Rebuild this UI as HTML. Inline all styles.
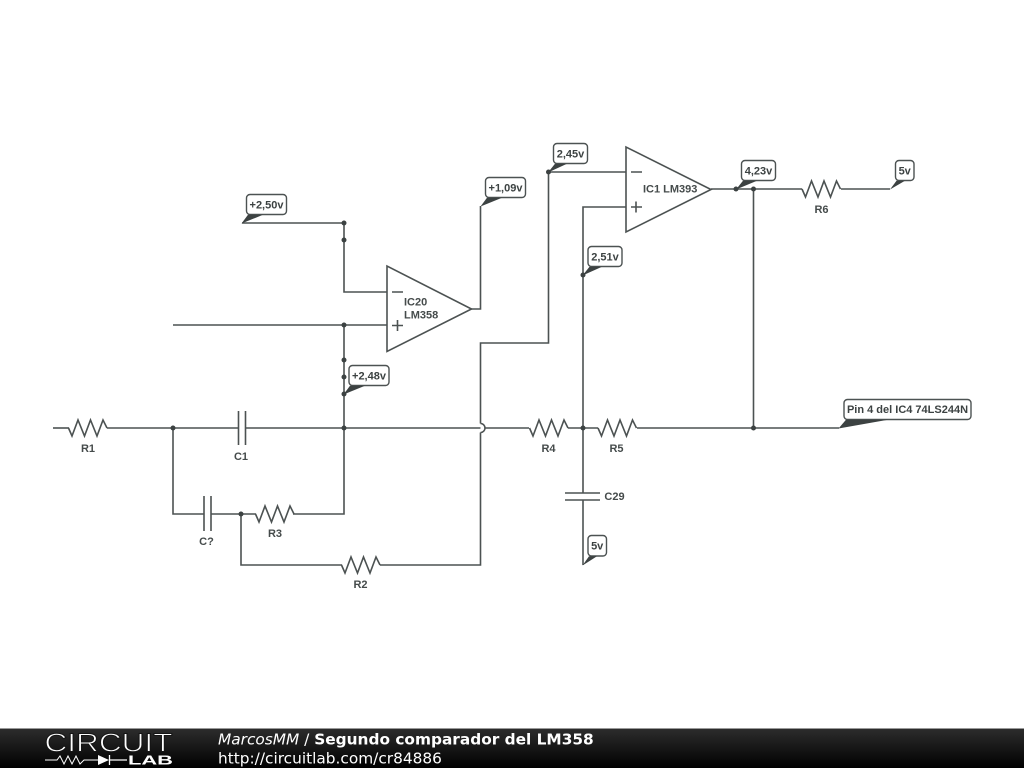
<!DOCTYPE html>
<html>
<head>
<meta charset="utf-8">
<style>
html,body{margin:0;padding:0;background:#fff;}
svg{display:block;}
.w{fill:none;stroke:#4c5252;stroke-width:1.6;stroke-linejoin:miter;}
.d{fill:#3c4242;}
.l{font-family:"Liberation Sans",sans-serif;font-weight:bold;font-size:11px;fill:#454b4b;text-anchor:middle;}
.t{font-family:"Liberation Sans",sans-serif;font-weight:bold;font-size:11px;fill:#3c4242;text-anchor:middle;}
.b{fill:#fff;stroke:#4c5252;stroke-width:1.4;}
.p{fill:#3c4242;}
.f{font-family:"DejaVu Sans",sans-serif;font-size:15.35px;fill:#fff;}
</style>
</head>
<body>
<svg width="1024" height="768" viewBox="0 0 1024 768" xmlns="http://www.w3.org/2000/svg">
<defs>
<linearGradient id="g" x1="0" y1="0" x2="0" y2="1"><stop offset="0" stop-color="#2c2c2c"/><stop offset="1" stop-color="#000"/></linearGradient>
</defs>
<rect width="1024" height="768" fill="#fff"/>

<!-- wires -->
<path class="w" d="M242 223H344V292H387"/>
<path class="w" d="M173 325H387"/>
<path class="w" d="M344 325V514H293"/>
<path class="w" d="M53 428H69"/>
<path class="w" d="M107 428H238.500"/>
<path class="w" d="M245 428H480.500M480.500 423.500A4.500 4.500 0 0 1 480.500 432.500"/>
<path class="w" d="M485 428H529"/>
<path class="w" d="M173 428V514H204"/>
<path class="w" d="M211 514H256"/>
<path class="w" d="M241 514V565H342"/>
<path class="w" d="M380 565H480.500V432.500M480.500 423.500V343H548.500V172H626"/>
<path class="w" d="M471 309H480.500V206"/>
<path class="w" d="M626 207H583V493"/>
<path class="w" d="M583 500V565"/>
<path class="w" d="M568 428H598"/>
<path class="w" d="M637 428H839"/>
<path class="w" d="M711 189H802"/>
<path class="w" d="M841 189H890"/>
<path class="w" d="M753.500 189V428"/>

<!-- resistors -->
<path class="w" d="M68.500 428L72 436L78 420L84.500 436L90.500 420L97 436L103 420L107 428"/>
<path class="w" d="M255.500 514L259 522L265 506L271.500 522L277.500 506L284 522L290 506L294 514"/>
<path class="w" d="M341.500 565L345 573L351 557L357.500 573L363.500 557L370 573L376 557L380 565"/>
<path class="w" d="M529.500 428L533 436L539 420L545.500 436L551.500 420L558 436L564 420L568 428"/>
<path class="w" d="M598 428L601.500 436L607.500 420L614 436L620 420L626.500 436L632.500 420L636.500 428"/>
<path class="w" d="M802 189L805.500 197L811.500 181L818 197L824 181L830.500 197L836.500 181L840.500 189"/>

<!-- capacitors -->
<path class="w" d="M238.500 411V445M245.500 411V445"/>
<path class="w" d="M204 496V531M211 496V531"/>
<path class="w" d="M565 493H600M565 500H600"/>

<!-- op amps -->
<path class="w" d="M387 266V351.500L471.500 309Z"/>
<path class="w" d="M392 292H403M397.500 320V331M392 325.500H403"/>
<path class="w" d="M626 147V232L711 189.500Z"/>
<path class="w" d="M631 172H642M636 201.500V212.500M631 207H642"/>

<!-- dots -->
<g class="d">
<circle cx="344" cy="223" r="2.500"/><circle cx="344" cy="240" r="2.500"/><circle cx="344" cy="325" r="2.500"/>
<circle cx="344" cy="360" r="2.500"/><circle cx="344" cy="377" r="2.500"/><circle cx="344" cy="394" r="2.500"/>
<circle cx="173" cy="428" r="2.500"/><circle cx="344" cy="428" r="2.500"/><circle cx="241" cy="514" r="2.500"/>
<circle cx="548.500" cy="172" r="2.500"/><circle cx="736" cy="189" r="2.500"/><circle cx="753.500" cy="189" r="2.500"/>
<circle cx="583" cy="275" r="2.500"/><circle cx="583" cy="428" r="2.500"/><circle cx="753.500" cy="428" r="2.500"/>
</g>

<!-- tags -->
<rect class="b" x="246.500" y="194.500" width="40" height="20" rx="3.500"/>
<polygon class="p" points="241.500,223.500 248,214.800 263,214.800"/>
<text class="t" x="266.500" y="208.500">+2,50v</text>

<rect class="b" x="485.500" y="177.500" width="40" height="20" rx="3.500"/>
<polygon class="p" points="480.500,206.500 487,197.800 502,197.800"/>
<text class="t" x="505.500" y="191.500">+1,09v</text>

<rect class="b" x="349" y="365.500" width="40" height="20" rx="3.500"/>
<polygon class="p" points="343.500,394.500 350,385.800 365,385.800"/>
<text class="t" x="369" y="379.500">+2,48v</text>

<rect class="b" x="553.500" y="143.500" width="34" height="20" rx="3.500"/>
<polygon class="p" points="548,172.500 555,163.800 567,163.800"/>
<text class="t" x="570.500" y="157.500">2,45v</text>

<rect class="b" x="741.500" y="160.500" width="34" height="20" rx="3.500"/>
<polygon class="p" points="736,189.500 743,180.800 757,180.800"/>
<text class="t" x="758.500" y="174.500">4,23v</text>

<rect class="b" x="588" y="246.500" width="34" height="20" rx="3.500"/>
<polygon class="p" points="582.500,275.500 589.500,266.800 602,266.800"/>
<text class="t" x="605" y="260.500">2,51v</text>

<rect class="b" x="895.500" y="160.500" width="18.500" height="20" rx="3.500"/>
<polygon class="p" points="890,189.500 896.500,180.800 905,180.800"/>
<text class="t" x="904.700" y="174.500">5v</text>

<rect class="b" x="588" y="535.500" width="18.500" height="20.500" rx="3.500"/>
<polygon class="p" points="582.500,565.500 589,556.300 597,556.300"/>
<text class="t" x="597.200" y="549.500">5v</text>

<rect class="b" x="844" y="399.500" width="127" height="20" rx="3.500"/>
<polygon class="p" points="838.500,428.500 846,419.800 888,419.800"/>
<text class="t" x="907.500" y="413">Pin 4 del IC4 74LS244N</text>

<!-- labels -->
<text class="l" x="88" y="452">R1</text>
<text class="l" x="241" y="460">C1</text>
<text class="l" x="206.500" y="545">C?</text>
<text class="l" x="275" y="537">R3</text>
<text class="l" x="360.500" y="588">R2</text>
<text class="l" x="548.500" y="452">R4</text>
<text class="l" x="616.500" y="452">R5</text>
<text class="l" x="614.500" y="500">C29</text>
<text class="l" x="821.500" y="213">R6</text>
<text class="l" x="404" y="305.500" style="text-anchor:start">IC20</text>
<text class="l" x="404" y="318.500" style="text-anchor:start">LM358</text>
<text class="l" x="643" y="192.500" style="text-anchor:start">IC1 LM393</text>

<!-- footer -->
<rect x="0" y="729" width="1024" height="39" fill="url(#g)"/>
<rect x="0" y="728" width="1024" height="1" fill="#999"/>
<text x="44.500" y="751.500" font-family="Liberation Sans,sans-serif" font-size="25.500" fill="#fff" stroke="#151515" stroke-width="0.9" textLength="128" lengthAdjust="spacingAndGlyphs">CIRCUIT</text>
<path d="M45 760H57L60 756L64 764L68 756L72 764L76 756L80 764L84 760H99" fill="none" stroke="#fff" stroke-width="1"/>
<polygon points="98,755 98,765 109,760" fill="#fff"/>
<path d="M109.500 755V765M109 760H127" stroke="#fff" stroke-width="1.300" fill="none"/>
<text x="128" y="764.500" font-family="Liberation Sans,sans-serif" font-weight="bold" font-size="13" fill="#fff" textLength="45" lengthAdjust="spacingAndGlyphs">LAB</text>
<text class="f" x="218" y="744.500"><tspan font-style="italic">MarcosMM</tspan> / <tspan font-weight="bold">Segundo comparador del LM358</tspan></text>
<text class="f" x="218" y="763.500">http://circuitlab.com/cr84886</text>
</svg>
</body>
</html>
